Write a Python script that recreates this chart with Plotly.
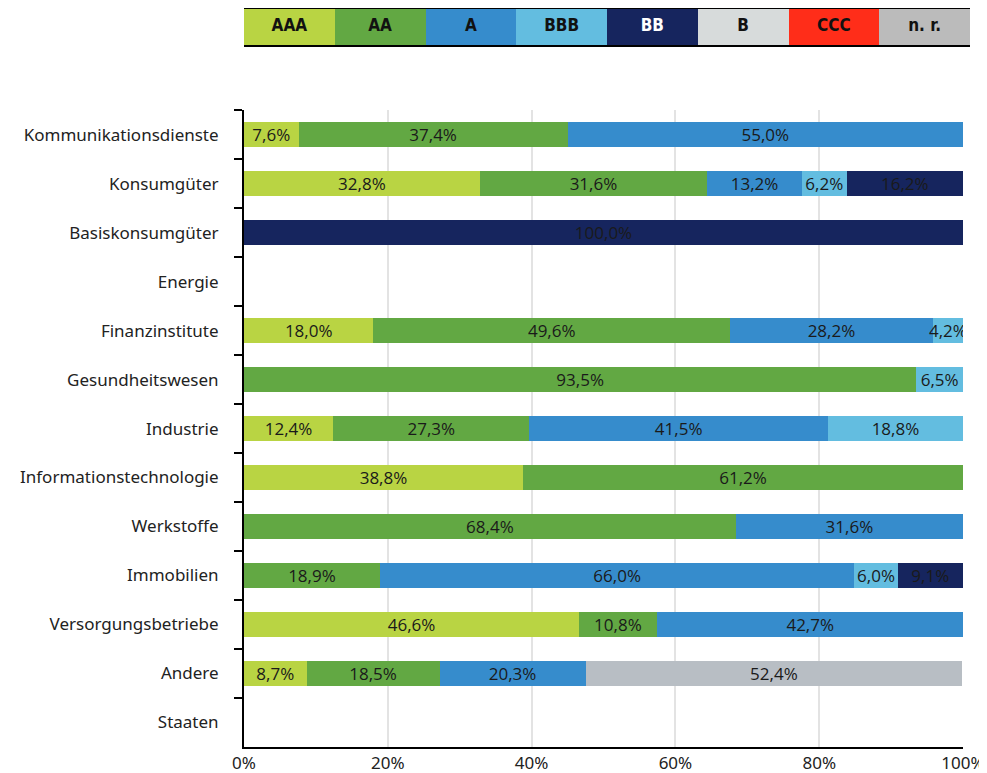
import plotly.graph_objects as go

categories = [
    'Kommunikationsdienste', 'Konsumgüter', 'Basiskonsumgüter', 'Energie',
    'Finanzinstitute', 'Gesundheitswesen', 'Industrie', 'Informationstechnologie',
    'Werkstoffe', 'Immobilien', 'Versorgungsbetriebe', 'Andere', 'Staaten'
]
ratings = ['AAA', 'AA', 'A', 'BBB', 'BB', 'B', 'CCC', 'n. r.']
x_ticks = [0, 20, 40, 60, 80, 100]
x_tick_labels = ['0%', '20%', '40%', '60%', '80%', '100%']

# share per rating (%), None = not held
aaa = [7.6, 32.8, None, None, 18.0, None, 12.4, 38.8, None, None, 46.6, 8.7, None]
aa = [37.4, 31.6, None, None, 49.6, 93.5, 27.3, 61.2, 68.4, 18.9, 10.8, 18.5, None]
a = [55.0, 13.2, None, None, 28.2, None, 41.5, None, 31.6, 66.0, 42.7, 20.3, None]
bbb = [None, 6.2, None, None, 4.2, 6.5, 18.8, None, None, 6.0, None, None, None]
bb = [None, 16.2, 100.0, None, None, None, None, None, None, 9.1, None, None, None]
b = [None] * 13
ccc = [None] * 13
nr = [None, None, None, None, None, None, None, None, None, None, None, 52.4, None]

series = [aaa, aa, a, bbb, bb, b, ccc, nr]
colors = ['#b9d443', '#62a843', '#368ccc', '#63bde0', '#16255e', '#d7dbdb', '#ff2d19', '#b8bec4']
legend_colors = ['#b9d443', '#62a843', '#368ccc', '#63bde0', '#16255e', '#d7dbdb', '#ff2d19', '#bbbbbb']
legend_text_colors = ['#111', '#111', '#111', '#111', '#fff', '#111', '#111', '#111']

fig = go.Figure()

for name, vals, col in zip(ratings, series, colors):
    fig.add_trace(go.Bar(
        y=categories, x=vals, name=name, orientation='h',
        marker=dict(color=col, line_width=0),
        texttemplate='%{x:.1f}%', textposition='inside',
        insidetextanchor='middle', constraintext='none',
        textfont=dict(family='Open Sans', size=17, color='#1a1a1a'),
        showlegend=False
    ))

# custom legend row on its own axis
fig.add_trace(go.Bar(
    x=ratings, y=[1] * len(ratings), width=1,
    marker=dict(color=legend_colors, line_width=0),
    xaxis='x2', yaxis='y2', showlegend=False, hoverinfo='skip'
))
fig.add_trace(go.Scatter(
    x=ratings, y=[0.5] * len(ratings), mode='text',
    text=['<b>' + r + '</b>' for r in ratings],
    textfont=dict(family='DejaVu Sans Condensed', size=17, color=legend_text_colors),
    xaxis='x2', yaxis='y2', showlegend=False, hoverinfo='skip'
))

# page body adds an 8px offset, margins compensate for it
fig.update_layout(
    width=987, height=773,
    margin=dict(l=236, r=25, t=1, b=34, autoexpand=False),
    barmode='stack', bargap=0.48,
    separators=',.',
    plot_bgcolor='#fff', paper_bgcolor='#fff',
    font=dict(family='Noto Sans', size=17, color='#222'),
    xaxis=dict(
        domain=[0, 0.9904], range=[0, 100], tickvals=x_ticks, ticktext=x_tick_labels,
        showgrid=True, gridcolor='#e3e3e3', gridwidth=2, automargin=False,
        showline=True, linecolor='#000', linewidth=2, zeroline=False,
        ticks='', tickfont=dict(size=17)
    ),
    yaxis=dict(
        domain=[0, 0.863], categoryorder='array', categoryarray=categories,
        autorange='reversed', showline=True, linecolor='#000', linewidth=2,
        ticks='outside', tickson='boundaries', ticklen=8, tickwidth=2,
        tickcolor='#000', ticklabelstandoff=20, showgrid=False, automargin=False
    ),
    xaxis2=dict(
        domain=[0, 1], anchor='y2', range=[-0.5, 7.5], showticklabels=False,
        showline=True, mirror=True, linecolor='#000', linewidth=2,
        ticks='', showgrid=False, zeroline=False, automargin=False
    ),
    yaxis2=dict(
        domain=[0.951, 1], anchor='x2', range=[0, 1], showticklabels=False,
        showline=False, ticks='', showgrid=False, zeroline=False, automargin=False
    ),
)

fig.write_html('out.html')
